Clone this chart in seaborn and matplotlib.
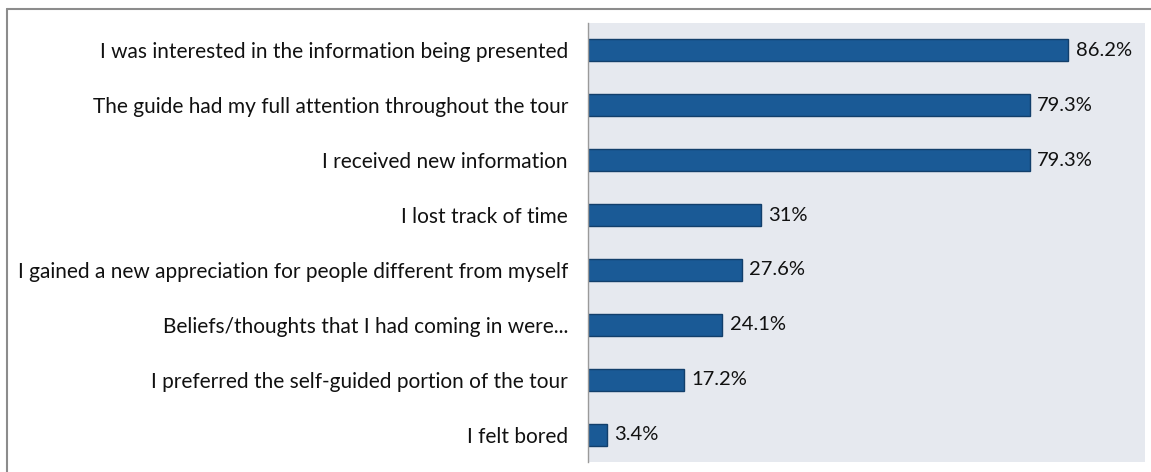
import matplotlib
matplotlib.use("Agg")
import matplotlib.pyplot as plt
import seaborn as sns
import pandas as pd
from matplotlib.lines import Line2D

# data
statements = [
    "I was interested in the information being presented",
    "The guide had my full attention throughout the tour",
    "I received new information",
    "I lost track of time",
    "I gained a new appreciation for people different from myself",
    "Beliefs/thoughts that I had coming in were...",
    "I preferred the self-guided portion of the tour",
    "I felt bored",
]
percent = [86.2, 79.3, 79.3, 31.0, 27.6, 24.1, 17.2, 3.4]
value_labels = ["86.2%", "79.3%", "79.3%", "31%", "27.6%", "24.1%", "17.2%", "3.4%"]

df = pd.DataFrame({"statement": statements, "percent": percent})

sns.set_style("white")
plt.rcParams["font.family"] = ["Lato", "DejaVu Sans"]

fig = plt.figure(figsize=(11.51, 4.72), dpi=100)
ax = fig.add_axes([0.5109, 0.0212, 0.4839, 0.9301])
ax.set_facecolor("#E6E9EF")

sns.barplot(data=df, x="percent", y="statement", orient="h", color="#1A5A96",
            saturation=1, width=0.4, edgecolor="#123F6B", linewidth=1, ax=ax)

ax.set_xlim(0, 100)
ax.set_ylim(7.5, -0.5)
ax.set_xlabel("")
ax.set_ylabel("")
ax.set_xticks([])
ax.tick_params(axis="y", length=0, pad=14.5, labelsize=15, colors="#111111")

for side in ["top", "right", "bottom"]:
    ax.spines[side].set_visible(False)
ax.spines["left"].set_color("#9a9a9a")
ax.spines["left"].set_linewidth(1)

for i, (v, lab) in enumerate(zip(percent, value_labels)):
    ax.annotate(lab, (v, i), xytext=(5.5, 0), textcoords="offset points",
                va="center", ha="left", fontsize=14.5, color="#111111")

# outer frame (only top and left visible in the crop)
fig.add_artist(Line2D([6.5 / 1151, 1], [1 - 8.5 / 472, 1 - 8.5 / 472],
                      transform=fig.transFigure, color="#8c8c8c", linewidth=1.5))
fig.add_artist(Line2D([6.5 / 1151, 6.5 / 1151], [0, 1 - 8.5 / 472],
                      transform=fig.transFigure, color="#8c8c8c", linewidth=1.5))

fig.savefig("out.png", dpi=100)
